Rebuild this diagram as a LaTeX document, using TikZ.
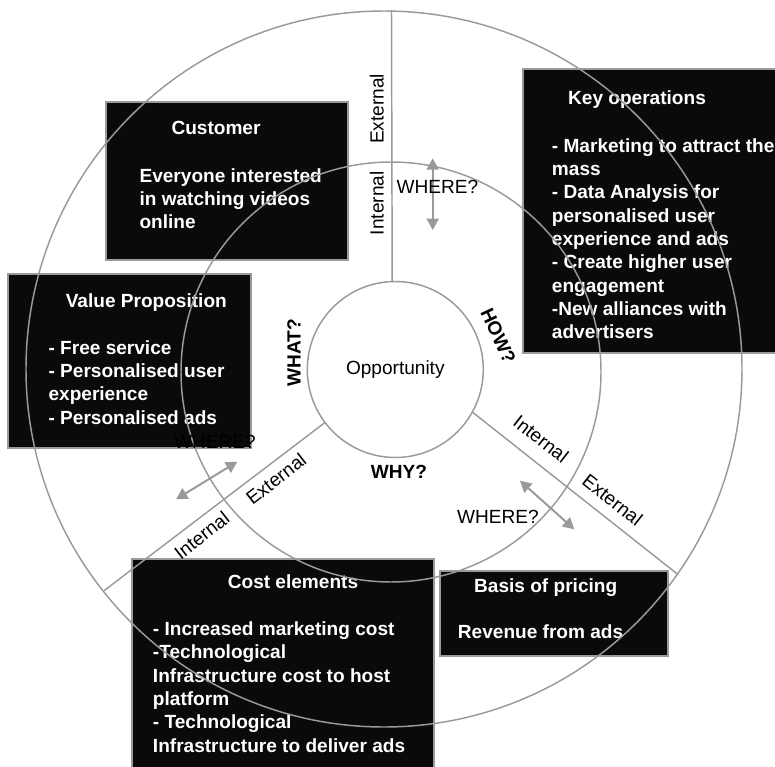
\documentclass[tikz,border=0pt]{standalone}
\usepackage{fontspec}
\setmainfont{Liberation Sans}
\usepackage{tikz}
\usetikzlibrary{arrows.meta, positioning}
\definecolor{ringgray}{HTML}{9A9A9A}
\definecolor{boxblack}{HTML}{0A0A0A}
\newcommand\diagfont{\fontsize{14.3}{17.5}\selectfont}
\tikzset{
  canvasbox/.style={rectangle, draw=ringgray, line width=1.2pt, fill=boxblack, anchor=north west, inner sep=0pt},
  boxtitle/.style={text=white, font=\diagfont\bfseries, anchor=base, inner sep=0pt},
  boxbody/.style={text=white, font=\diagfont\bfseries, anchor=base west, align=left, inner sep=0pt},
  ring/.style={draw=ringgray, line width=1.1pt},
  zone/.style={font=\diagfont, inner sep=0pt},
  question/.style={font=\diagfont\bfseries, inner sep=0pt},
  wherearrow/.style={{Triangle[length=8.5pt,width=9pt]}-{Triangle[length=8.5pt,width=9pt]}, draw=ringgray, line width=1.5pt},
}

\begin{document}
\begin{tikzpicture}[x=0.75pt, y=-0.75pt, font=\diagfont]
\useasboundingbox (0,0) rectangle (775,767);
\node[canvasbox, minimum width=181.5pt, minimum height=118.5pt] (cust) at (105,101) {};
\node[boxtitle] (custT) at (216,134.5) {Customer};
\node[boxbody] (custB) at (139.3,228.7) {Everyone interested\\in watching videos\\online};
\node[canvasbox, minimum width=182.25pt, minimum height=130.5pt] (value) at (7,273) {};
\node[boxtitle] (valueT) at (146.3,307) {Value Proposition};
\node[boxbody] (valueB) at (48.3,424.3) {- Free service\\- Personalised user\\experience\\- Personalised ads};
\node[canvasbox, minimum width=201pt, minimum height=213pt] (keyop) at (522,68) {};
\node[boxtitle] (keyopT) at (637,104.7) {Key operations};
\node[boxbody] (keyopB) at (551.7,338.7) {- Marketing to attract the\\mass\\- Data Analysis for\\personalised user\\experience and ads\\- Create higher user\\engagement\\-New alliances with\\advertisers};
\node[canvasbox, minimum width=226.5pt, minimum height=174pt] (cost) at (131,558) {};
\node[boxtitle] (costT) at (293,588.7) {Cost elements};
\node[boxbody] (costB) at (152.7,752) {- Increased marketing cost\\-Technological\\Infrastructure cost to host\\platform\\- Technological\\Infrastructure to deliver ads};
\node[canvasbox, minimum width=171pt, minimum height=63.75pt] (basis) at (439,570) {};
\node[boxtitle] (basisT) at (545.7,592) {Basis of pricing};
\node[boxbody] (basisB) at (457.7,638.7) {Revenue from ads};

\draw[ring] (391,372) circle[radius=157.5pt];
\draw[ring] (384,369) circle[radius=268.5pt];
\node[circle, ring, fill=white, minimum size=132pt, inner sep=0pt] (opp) at (395.3,369.5) {Opportunity};
\coordinate (topEnd) at (391.5,10.5);
\coordinate (leftEnd) at (104,590.7);
\coordinate (rightEnd) at (677.3,574);
\draw[ring] (opp.92.5) -- (topEnd);
\draw[ring] (opp.217.8) -- (leftEnd);
\draw[ring] (opp.-29.9) -- (rightEnd);

\node[question, rotate=90] (what) at (294,352.5) {WHAT?};
\node[question, rotate=-65] (how) at (498.3,336) {HOW?};
\node[question] (why) at (399,471.7) {WHY?};

\node[zone, rotate=90] (extTop) at (376.7,109) {External};
\node[zone, rotate=90] (intTop) at (376.7,203.3) {Internal};
\node[zone, rotate=-38] (intRight) at (541,439) {Internal};
\node[zone, rotate=-38] (extRight) at (612.5,500) {External};
\node[zone, rotate=38] (extLeft) at (276,479) {External};
\node[zone, rotate=38] (intLeft) at (201.7,535.5) {Internal};

\coordinate (wTopA) at (432.7,158.3);
\coordinate (wTopB) at (432.7,230);
\coordinate (wRightA) at (520,480.7);
\coordinate (wRightB) at (574.3,529.3);
\coordinate (wLeftA) at (237.3,461.7);
\coordinate (wLeftB) at (176,499.3);
\draw[wherearrow] (wTopA) -- (wTopB);
\draw[wherearrow] (wRightA) -- (wRightB);
\draw[wherearrow] (wLeftA) -- (wLeftB);
\node[zone] (whereTop) at (437.5,186.7) {WHERE?};
\node[zone] (whereRight) at (498,516.7) {WHERE?};
\node[zone] (whereLeft) at (215,441.5) {WHERE?};
\end{tikzpicture}
\end{document}
